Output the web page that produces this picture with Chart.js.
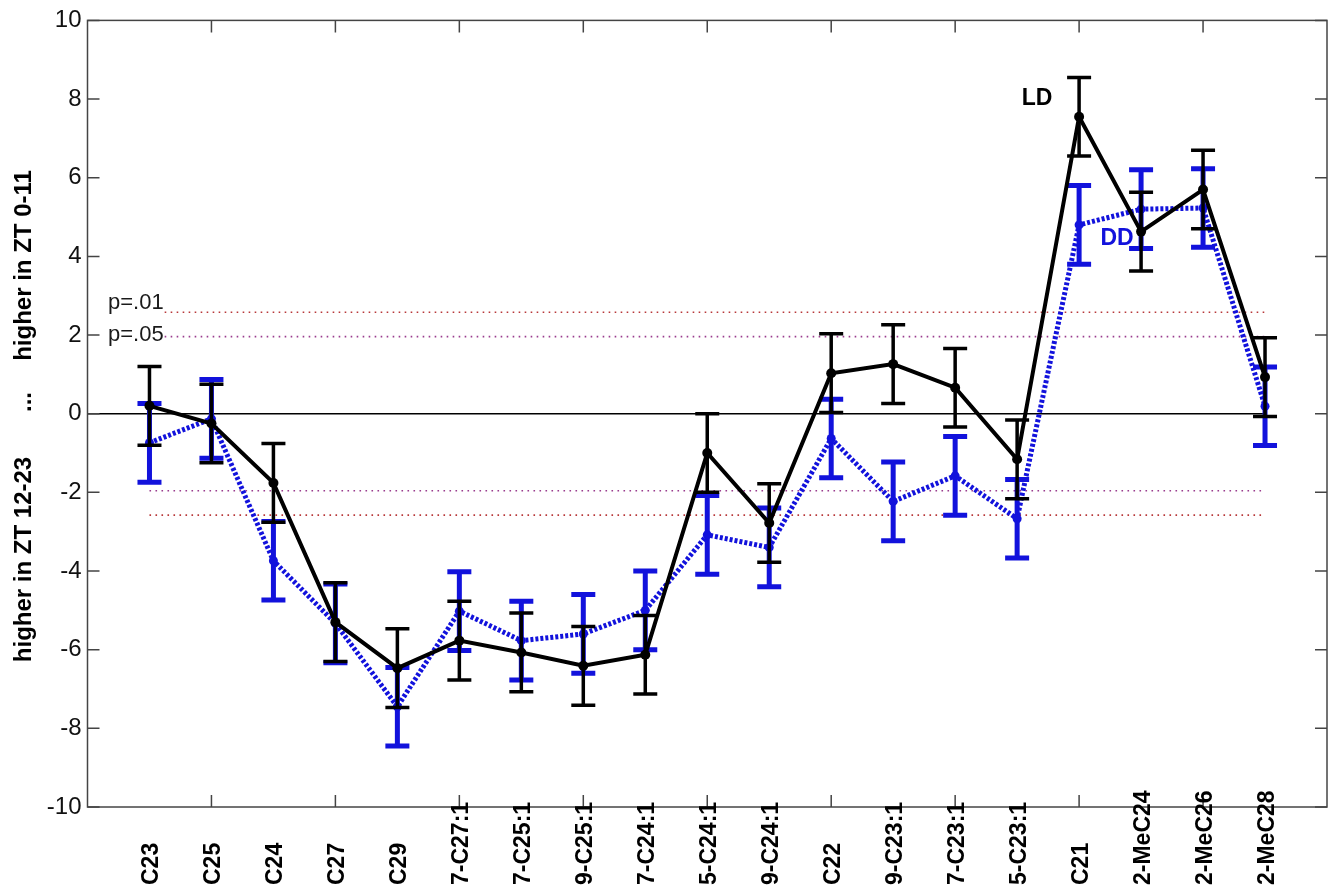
<!DOCTYPE html>
<html>
<head>
<meta charset="utf-8">
<script src="https://cdn.jsdelivr.net/npm/chart.js@4/dist/chart.umd.min.js"></script>
<style>
  html, body { margin: 0; padding: 0; background: #fff; }
  #wrap { width: 1332px; height: 887px; }
</style>
</head>
<body>
<div id="wrap"><canvas id="chart" width="1332" height="887"></canvas></div>
<script>
// Compounds along the x axis (positions 1..19)
const categories = ['C23', 'C25', 'C24', 'C27', 'C29', '7-C27:1', '7-C25:1', '9-C25:1', '7-C24:1',
  '5-C24:1', '9-C24:1', 'C22', '9-C23:1', '7-C23:1', '5-C23:1', 'C21', '2-MeC24', '2-MeC26', '2-MeC28'];

// LD (light/dark) scores and error half-widths
const ldValues = [0.2, -0.25, -1.76, -5.3, -6.47, -5.77, -6.07, -6.41, -6.13, -1.0, -2.78,
  1.03, 1.26, 0.66, -1.16, 7.55, 4.63, 5.7, 0.93];
const ldErrors = [1.0, 1.0, 1.0, 1.0, 1.0, 1.0, 1.0, 1.0, 1.0, 1.0, 1.0,
  1.0, 1.0, 1.0, 1.0, 1.0, 1.0, 1.0, 1.0];

// DD (constant darkness) scores and error half-widths
const ddValues = [-0.74, -0.13, -3.74, -5.33, -7.45, -5.02, -5.77, -5.6, -5.0, -3.08, -3.4,
  -0.63, -2.23, -1.58, -2.67, 4.8, 5.2, 5.23, 0.19];
const ddErrors = [1.0, 1.0, 1.0, 1.0, 1.0, 1.0, 1.0, 1.0, 1.0, 1.0, 1.0,
  1.0, 1.0, 1.0, 1.0, 1.0, 1.0, 1.0, 1.0];

// Significance thresholds
const thresholdValues = [2.58, 1.96];
const thresholdLabels = ['p=.01', 'p=.05'];
const thresholdColors = ['#b8383a', '#9a3d8e'];

// Axis ticks
const yTickValues = [-10, -8, -6, -4, -2, 0, 2, 4, 6, 8, 10];
const xTickValues = [2, 4, 6, 8, 10, 12, 14, 16, 18];

const FONT = "'Liberation Sans', Arial, Helvetica, sans-serif";
const BLUE = '#1212dc';

function toPoints(values) {
  return values.map((v, i) => ({ x: i + 1, y: v }));
}

const seriesErrors = [ldErrors, ddErrors];
const seriesValues = [ldValues, ddValues];
const seriesStyle = [
  { color: '#000000', width: 3.5, cap: 12 },
  { color: BLUE, width: 5, cap: 12 }
];

const chartDecor = {
  id: 'chartDecor',
  beforeDatasetsDraw(chart) {
    const ctx = chart.ctx;
    const xs = chart.scales.x, ys = chart.scales.y;
    ctx.save();
    // zero line
    ctx.strokeStyle = '#000';
    ctx.lineWidth = 1.5;
    ctx.beginPath();
    ctx.moveTo(xs.getPixelForValue(0), ys.getPixelForValue(0));
    ctx.lineTo(xs.getPixelForValue(19), ys.getPixelForValue(0));
    ctx.stroke();

    // threshold lines with labels on the positive side
    ctx.font = '22px ' + FONT;
    thresholdValues.forEach((t, k) => {
      const label = thresholdLabels[k];
      const textX = 108;
      const w = ctx.measureText(label).width;
      ctx.setLineDash([1.6, 4.4]);
      ctx.lineWidth = 1.6;
      ctx.strokeStyle = thresholdColors[k];
      // positive side, starting right after its label
      let py = ys.getPixelForValue(t);
      ctx.beginPath();
      ctx.moveTo(textX + w + 1, py);
      ctx.lineTo(xs.getPixelForValue(19), py);
      ctx.stroke();
      // negative side
      py = ys.getPixelForValue(-t);
      ctx.beginPath();
      ctx.moveTo(xs.getPixelForValue(1), py);
      ctx.lineTo(xs.getPixelForValue(19), py);
      ctx.stroke();
      ctx.setLineDash([]);
      ctx.fillStyle = '#1a1a1a';
      ctx.textAlign = 'left';
      ctx.textBaseline = 'alphabetic';
      ctx.fillText(label, textX, ys.getPixelForValue(t) - 3.5 + (k === 1 ? 7.5 : 0));
    });
    ctx.restore();
  },
  beforeDatasetDraw(chart, args) {
    const ctx = chart.ctx;
    const xs = chart.scales.x, ys = chart.scales.y;
    const i = args.index;
    const vals = seriesValues[i], errs = seriesErrors[i], st = seriesStyle[i];
    ctx.save();
    ctx.strokeStyle = st.color;
    ctx.lineWidth = st.width;
    ctx.lineCap = 'butt';
    vals.forEach((v, j) => {
      const px = xs.getPixelForValue(j + 1);
      const top = ys.getPixelForValue(v + errs[j]);
      const bot = ys.getPixelForValue(v - errs[j]);
      ctx.beginPath();
      ctx.moveTo(px, top);
      ctx.lineTo(px, bot);
      ctx.moveTo(px - st.cap, top);
      ctx.lineTo(px + st.cap, top);
      ctx.moveTo(px - st.cap, bot);
      ctx.lineTo(px + st.cap, bot);
      ctx.stroke();
    });
    ctx.restore();
  },
  afterDraw(chart) {
    const ctx = chart.ctx;
    const xs = chart.scales.x, ys = chart.scales.y;
    const a = chart.chartArea;
    ctx.save();
    // axis box
    ctx.strokeStyle = '#444';
    ctx.lineWidth = 1.5;
    ctx.strokeRect(a.left, a.top, a.right - a.left, a.bottom - a.top);
    // inward tick marks on all four sides
    ctx.beginPath();
    yTickValues.forEach(v => {
      const py = ys.getPixelForValue(v);
      ctx.moveTo(a.left, py); ctx.lineTo(a.left + 12, py);
      ctx.moveTo(a.right, py); ctx.lineTo(a.right - 12, py);
    });
    xTickValues.forEach(v => {
      const px = xs.getPixelForValue(v);
      ctx.moveTo(px, a.bottom); ctx.lineTo(px, a.bottom - 12);
      ctx.moveTo(px, a.top); ctx.lineTo(px, a.top + 12);
    });
    ctx.stroke();

    // compound labels, rotated, reading upward from the bottom
    ctx.fillStyle = '#000';
    ctx.font = 'bold 23px ' + FONT;
    ctx.textAlign = 'left';
    ctx.textBaseline = 'alphabetic';
    categories.forEach((c, j) => {
      const px = xs.getPixelForValue(j + 1);
      ctx.save();
      ctx.translate(px, 885);
      ctx.rotate(-Math.PI / 2);
      ctx.fillText(c, 0, 9);
      ctx.restore();
    });

    // y axis title in three parts
    ctx.font = 'bold 24px ' + FONT;
    ctx.textAlign = 'center';
    [['higher in ZT 0-11', 265.5], ['...', 402], ['higher in ZT 12-23', 559.5]].forEach(([t, cy]) => {
      ctx.save();
      ctx.translate(0, cy);
      ctx.rotate(-Math.PI / 2);
      ctx.fillText(t, 0, 30.5);
      ctx.restore();
    });

    // series tags
    ctx.font = 'bold 23px ' + FONT;
    ctx.fillStyle = '#000';
    ctx.fillText('LD', 1037, 105);
    ctx.fillStyle = BLUE;
    ctx.fillText('DD', 1117, 245);
    ctx.restore();
  }
};

new Chart(document.getElementById('chart'), {
  type: 'line',
  data: {
    datasets: [
      {
        label: 'LD',
        data: toPoints(ldValues),
        borderColor: '#000',
        borderWidth: 4,
        pointRadius: 5,
        pointBackgroundColor: '#000',
        pointBorderWidth: 0,
        tension: 0
      },
      {
        label: 'DD',
        data: toPoints(ddValues),
        borderColor: BLUE,
        borderWidth: 5,
        borderDash: [3, 2],
        pointRadius: 4.5,
        pointBackgroundColor: BLUE,
        pointBorderWidth: 0,
        tension: 0
      }
    ]
  },
  options: {
    responsive: false,
    animation: false,
    devicePixelRatio: 1,
    layout: { padding: { top: 17.5, right: 1.5, left: 0, bottom: 0 } },
    plugins: { legend: { display: false }, tooltip: { enabled: false } },
    scales: {
      x: {
        type: 'linear',
        min: 0,
        max: 20,
        grid: { display: false, drawTicks: false },
        border: { display: false },
        ticks: { display: false },
        afterFit(scale) { scale.height = 80; }
      },
      y: {
        min: -10,
        max: 10,
        grid: { display: false, drawTicks: false },
        border: { display: false },
        ticks: {
          stepSize: 2,
          padding: 6,
          color: '#111',
          font: { family: FONT, size: 24 }
        },
        afterFit(scale) { scale.width = 87.5; }
      }
    }
  },
  plugins: [chartDecor]
});
</script>
</body>
</html>
